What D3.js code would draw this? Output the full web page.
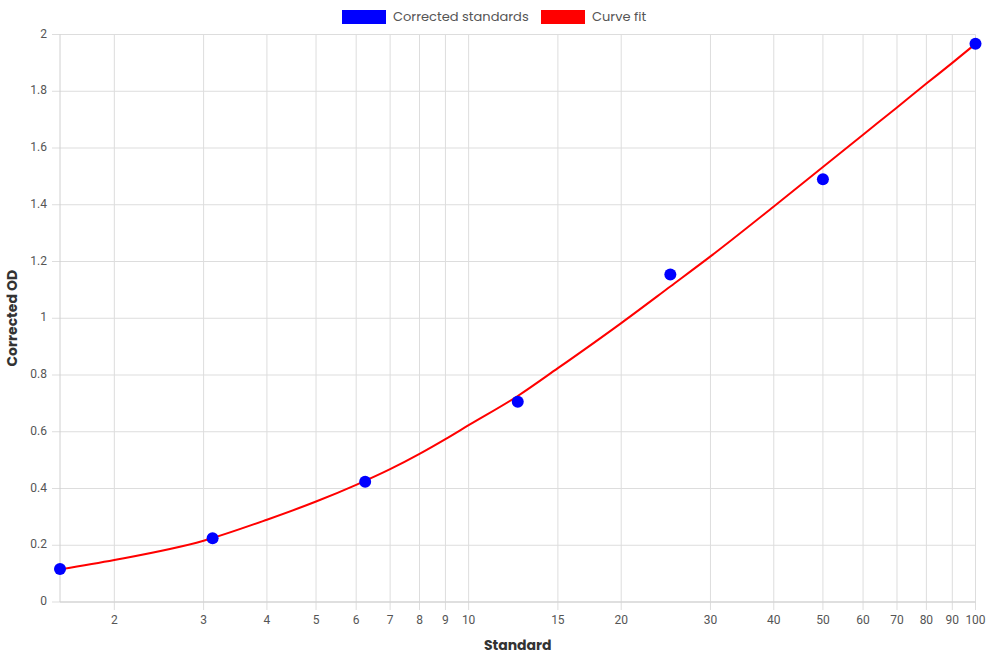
<!DOCTYPE html>
<html>
<head>
<meta charset="utf-8">
<script src="https://cdn.jsdelivr.net/npm/d3@7"></script>
<style>
  body { margin: 0; background: #fff; }
  svg { display: block; }
</style>
</head>
<body>
<svg id="chart" width="990" height="660"></svg>
<script>
// Standards (x) and corrected OD (y)
const standardX = [1.5625, 3.125, 6.25, 12.5, 25, 50, 100];
const correctedOD = [0.116, 0.225, 0.424, 0.706, 1.154, 1.490, 1.967];

// Curve fit
const fitX = [1.5625, 2, 3, 4, 5, 6, 7, 8, 9, 10, 12.5, 15, 20, 25, 30, 40, 50, 60, 70, 80, 90, 100];
const fitY = [0.115, 0.148, 0.216, 0.290, 0.354, 0.413, 0.468, 0.522, 0.574, 0.623, 0.726, 0.824, 0.983, 1.112, 1.218, 1.394, 1.533, 1.647, 1.743, 1.827, 1.900, 1.967];

const xTicks = [2, 3, 4, 5, 6, 7, 8, 9, 10, 15, 20, 30, 40, 50, 60, 70, 80, 90, 100];
const yTicks = [0, 0.2, 0.4, 0.6, 0.8, 1, 1.2, 1.4, 1.6, 1.8, 2];

const legendItems = [
  {label: 'Corrected standards', color: '#0000ff'},
  {label: 'Curve fit', color: '#ff0000'}
];

let margin = {left: 60, right: 14.5, top: 34.5, bottom: 58};
let width = 990, height = 660;

let svg = d3.select('#chart');

let x = d3.scaleLog()
    .domain([1.5625, 100])
    .range([margin.left, width - margin.right]);
let y = d3.scaleLinear()
    .domain([0, 2])
    .range([height - margin.bottom, margin.top]);

let gridColor = '#dddddd';
let tickFont = 'Roboto, "Liberation Sans", Arial, sans-serif';
let titleFont = 'Poppins, "Open Sans", "Noto Sans", sans-serif';

// Grid lines + tick marks
svg.append('g')
    .selectAll('line.vgrid')
    .data(xTicks)
    .join('line')
    .attr('class', 'vgrid')
    .attr('x1', d => x(d)).attr('x2', d => x(d))
    .attr('y1', margin.top).attr('y2', height - margin.bottom + 8)
    .attr('stroke', gridColor)
    .attr('stroke-width', 1);

svg.append('g')
    .selectAll('line.hgrid')
    .data(yTicks)
    .join('line')
    .attr('class', 'hgrid')
    .attr('x1', margin.left - 8).attr('x2', width - margin.right)
    .attr('y1', d => y(d)).attr('y2', d => y(d))
    .attr('stroke', gridColor)
    .attr('stroke-width', 1);

// Axis border lines
svg.append('line')
    .attr('x1', margin.left).attr('x2', margin.left)
    .attr('y1', margin.top).attr('y2', height - margin.bottom)
    .attr('stroke', '#d0d0d0');
svg.append('line')
    .attr('x1', margin.left).attr('x2', width - margin.right)
    .attr('y1', height - margin.bottom).attr('y2', height - margin.bottom)
    .attr('stroke', '#d0d0d0');

// Tick labels
svg.append('g')
    .selectAll('text')
    .data(xTicks)
    .join('text')
    .attr('x', d => x(d))
    .attr('y', height - margin.bottom + 19)
    .attr('text-anchor', 'middle')
    .attr('dominant-baseline', 'middle')
    .style('font-family', tickFont)
    .style('font-size', '12px')
    .attr('fill', '#555')
    .text(d => d);

svg.append('g')
    .selectAll('text')
    .data(yTicks)
    .join('text')
    .attr('x', margin.left - 13)
    .attr('y', d => y(d))
    .attr('text-anchor', 'end')
    .attr('dominant-baseline', 'middle')
    .style('font-family', tickFont)
    .style('font-size', '12px')
    .attr('fill', '#555')
    .text(d => d);

// Axis titles
svg.append('text')
    .attr('x', (margin.left + width - margin.right) / 2)
    .attr('y', 646)
    .attr('text-anchor', 'middle')
    .attr('dominant-baseline', 'middle')
    .style('font-family', titleFont)
    .style('font-size', '14px')
    .style('font-weight', 'bold')
    .attr('fill', '#333')
    .text('Standard');

svg.append('text')
    .attr('transform', 'translate(13,' + ((margin.top + height - margin.bottom) / 2) + ') rotate(-90)')
    .attr('text-anchor', 'middle')
    .attr('dominant-baseline', 'middle')
    .style('font-family', titleFont)
    .style('font-size', '14px')
    .style('font-weight', 'bold')
    .attr('fill', '#333')
    .text('Corrected OD');

// Curve fit line
let line = d3.line()
    .x(d => x(d[0]))
    .y(d => y(d[1]))
    .curve(d3.curveMonotoneX);

svg.append('path')
    .datum(d3.zip(fitX, fitY))
    .attr('d', line)
    .attr('fill', 'none')
    .attr('stroke', '#ff0000')
    .attr('stroke-width', 2);

// Points
svg.append('g')
    .selectAll('circle')
    .data(d3.zip(standardX, correctedOD))
    .join('circle')
    .attr('cx', d => x(d[0]))
    .attr('cy', d => y(d[1]))
    .attr('r', 6)
    .attr('fill', '#0000ff');

// Legend
let legendX = [342, 541];
let legend = svg.append('g')
    .selectAll('g')
    .data(legendItems)
    .join('g')
    .attr('transform', (d, i) => 'translate(' + legendX[i] + ',10)');
legend.append('rect')
    .attr('width', 44).attr('height', 14)
    .attr('fill', d => d.color);
legend.append('text')
    .attr('x', 51).attr('y', 7.5)
    .attr('dominant-baseline', 'middle')
    .style('font-family', titleFont)
    .style('font-size', '13px')
    .attr('fill', '#555')
    .text(d => d.label);
</script>
</body>
</html>
